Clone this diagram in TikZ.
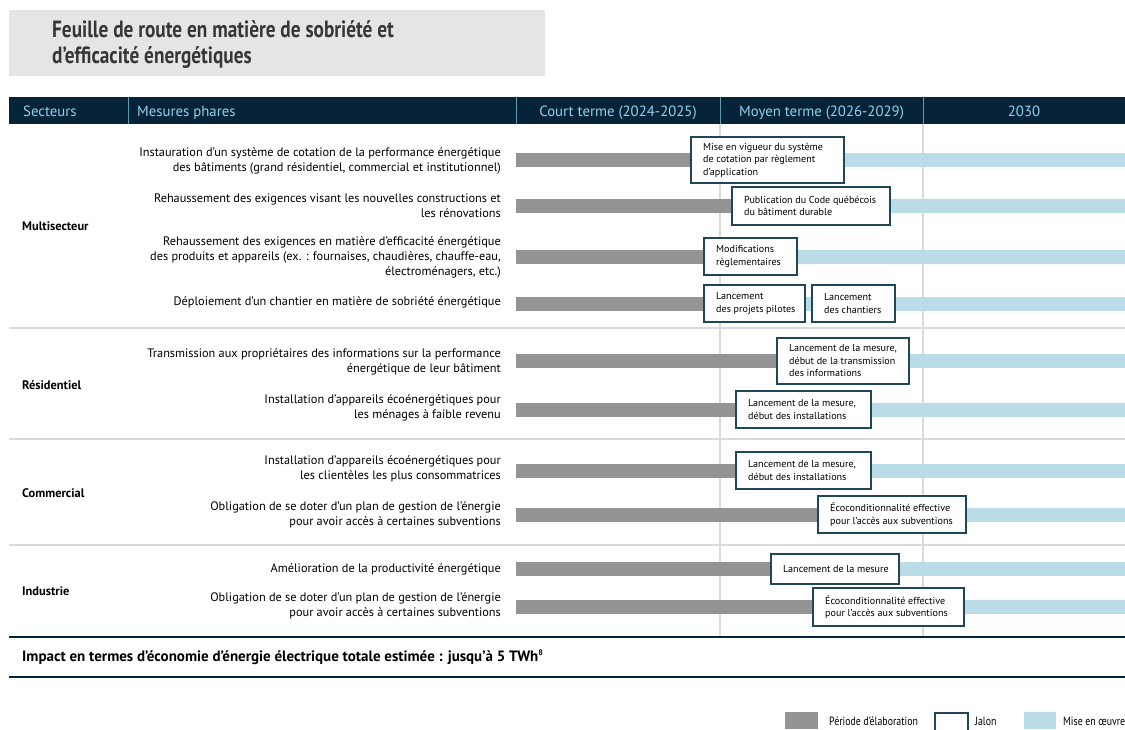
\documentclass[tikz,border=0pt]{standalone}
\usepackage{fontspec}
\setmainfont{PT Sans}
\newfontfamily\condfont[FakeStretch=0.82]{PT Sans}
\usetikzlibrary{backgrounds}
\definecolor{navy}{HTML}{06233A}
\definecolor{hdtext}{HTML}{8FD3E6}
\definecolor{hddiv}{HTML}{5F9DB3}
\definecolor{boxc}{HTML}{1F4757}
\definecolor{elabc}{HTML}{949494}
\definecolor{implc}{HTML}{B9DCE6}
\definecolor{sepc}{HTML}{DADADA}
\definecolor{titlebg}{HTML}{E5E5E5}
\definecolor{titletext}{HTML}{363636}
\newcommand{\jfont}{\fontsize{10.1}{12.5}\selectfont}
\newcommand{\mfont}{\fontsize{12.3}{15}\selectfont}
\tikzset{
  jalon/.style n args={3}{draw=boxc, line width=2.4pt, fill=white, anchor=west,
    minimum width=#1, minimum height=#2, inner sep=0pt, outer sep=0pt,
    label={[anchor=west, xshift=12pt, inner sep=0pt, align=left, font=\jfont, text=black]west:{#3}}},
  mesure/.style={anchor=east, align=right, font=\mfont, inner sep=0pt},
  secteur/.style={anchor=west, font=\fontsize{12.4}{14}\selectfont\bfseries, inner sep=0pt},
  hdr/.style={text=hdtext, font=\fontsize{14.8}{17}\selectfont, inner sep=0pt},
  elab/.style={draw=elabc, line width=14pt},
  impl/.style={draw=implc, line width=14pt},
  sep/.style={draw=sepc, line width=1.5pt},
  grid/.style={draw=sepc, line width=1.2pt},
  navyline/.style={draw=navy, line width=2pt},
  hdiv/.style={draw=hddiv, line width=1pt},
  leg/.style={anchor=west, font=\condfont\fontsize{12}{14}\selectfont, inner sep=0pt}
}
\begin{document}
\begin{tikzpicture}[x=1pt,y=-1pt]
\useasboundingbox (0,0) rectangle (1125,729);
% title
\fill[titlebg] (9,10) rectangle (545,76);
\node[anchor=west, align=left, inner sep=0pt, text=titletext,
  font=\condfont\bfseries\fontsize{23.5}{26}\selectfont] (title) at (52,45)
  {Feuille de route en matière de sobriété et\\d’efficacité énergétiques};
% header
\fill[navy] (9,97) rectangle (1125,124);
\foreach \x in {128,516,720,923} \draw[hdiv] (\x,97) -- (\x,124);
\node[hdr, anchor=base west] (h1) at (23,116) {Secteurs};
\node[hdr, anchor=base west] (h2) at (137,116) {Mesures phares};
\node[hdr, anchor=base] (h3) at (618,116) {Court terme (2024-2025)};
\node[hdr, anchor=base] (h4) at (821.5,116) {Moyen terme (2026-2029)};
\node[hdr, anchor=base] (h5) at (1024,116) {2030};
% separators
\draw[sep] (9,328) -- (1125,328);
\draw[sep] (9,439) -- (1125,439);
\draw[sep] (9,545) -- (1125,545);
\draw[navyline] (9,637) -- (1125,637);
\draw[navyline] (9,677) -- (1125,677);
% sectors
\node[secteur] (s-multi) at (22,226) {Multisecteur};
\node[secteur] (s-res) at (22,385) {Résidentiel};
\node[secteur] (s-com) at (22,493) {Commercial};
\node[secteur] (s-ind) at (22,591) {Industrie};
% measures
\node[mesure] (t1) at (501,161) {Instauration d'un système de cotation de la performance énergétique\\des bâtiments (grand résidentiel, commercial et institutionnel)};
\node[mesure] (t2) at (501,206) {Rehaussement des exigences visant les nouvelles constructions et\\les rénovations};
\node[mesure] (t3) at (501,257) {Rehaussement des exigences en matière d'efficacité énergétique\\des produits et appareils (ex. : fournaises, chaudières, chauffe-eau,\\électroménagers, etc.)};
\node[mesure] (t4) at (501,302) {Déploiement d'un chantier en matière de sobriété énergétique};
\node[mesure] (t5) at (501,362) {Transmission aux propriétaires des informations sur la performance\\énergétique de leur bâtiment};
\node[mesure] (t6) at (501,408) {Installation d'appareils écoénergétiques pour\\les ménages à faible revenu};
\node[mesure] (t7) at (501,469) {Installation d'appareils écoénergétiques pour\\les clientèles les plus consommatrices};
\node[mesure] (t8) at (501,515) {Obligation de se doter d'un plan de gestion de l'énergie\\pour avoir accès à certaines subventions};
\node[mesure] (t9) at (501,569) {Amélioration de la productivité énergétique};
\node[mesure] (t10) at (501,606) {Obligation de se doter d'un plan de gestion de l'énergie\\pour avoir accès à certaines subventions};
% milestones
\node[jalon={153}{46}{Mise en vigueur du système\\de cotation par règlement\\d'application}] (m1) at (691,160) {};
\node[jalon={158}{38}{Publication du Code québécois\\du bâtiment durable}] (m2) at (732,206) {};
\node[jalon={93}{37}{Modifications\\règlementaires}] (m3) at (704,256.5) {};
\node[jalon={101}{37}{Lancement\\des projets pilotes}] (m4a) at (704,303.5) {};
\node[jalon={83}{37}{Lancement\\des chantiers}] (m4b) at (812,303.5) {};
\node[jalon={132}{46}{Lancement de la mesure,\\début de la transmission\\des informations}] (m5) at (777,361) {};
\node[jalon={135}{37}{Lancement de la mesure,\\début des installations}] (m6) at (736,409.5) {};
\node[jalon={135}{37}{Lancement de la mesure,\\début des installations}] (m7) at (736,470.5) {};
\node[jalon={148}{37}{Écoconditionnalité effective\\pour l'accès aux subventions}] (m8) at (818,514.5) {};
\node[jalon={128}{30}{Lancement de la mesure}] (m9) at (771,569) {};
\node[jalon={151}{38}{Écoconditionnalité effective\\pour l'accès aux subventions}] (m10) at (813,607) {};
% bar endpoints
\foreach \i/\y in {1/160,2/206,3/256.5,4/303.5,5/361,6/409.5,7/470.5,8/514.5,9/569,10/607}{
  \coordinate (s\i) at (516,\y);
  \coordinate (e\i) at (1125,\y);
}
\begin{scope}[on background layer]
  \draw[grid] (720,124) -- (720,636);
  \draw[grid] (923,124) -- (923,636);
  \foreach \i in {1,2,3,5,6,7,8,9,10}{
    \draw[elab] (s\i) -- (m\i.center);
    \draw[impl] (m\i.center) -- (e\i);
  }
  \draw[elab] (s4) -- (m4a.center);
  \draw[impl] (m4a.center) -- (e4);
\end{scope}
% impact
\node[anchor=west, inner sep=0pt, font=\fontsize{15}{17}\selectfont\bfseries] (impact) at (22,657)
  {Impact en termes d’économie d’énergie électrique totale estimée : jusqu’à 5 TWh\raisebox{5.5pt}{\fontsize{8}{8}\selectfont 8}};
% legend
\fill[elabc] (785,712) rectangle (818,729);
\node[leg] (l1) at (829,721) {Période d’élaboration};
\draw[boxc, line width=1.6pt] (935,713) rectangle (968,732);
\node[leg] (l2) at (975,721) {Jalon};
\fill[implc] (1024,712) rectangle (1056,729);
\node[leg] (l3) at (1063,721) {Mise en œuvre};
\end{tikzpicture}
\end{document}
